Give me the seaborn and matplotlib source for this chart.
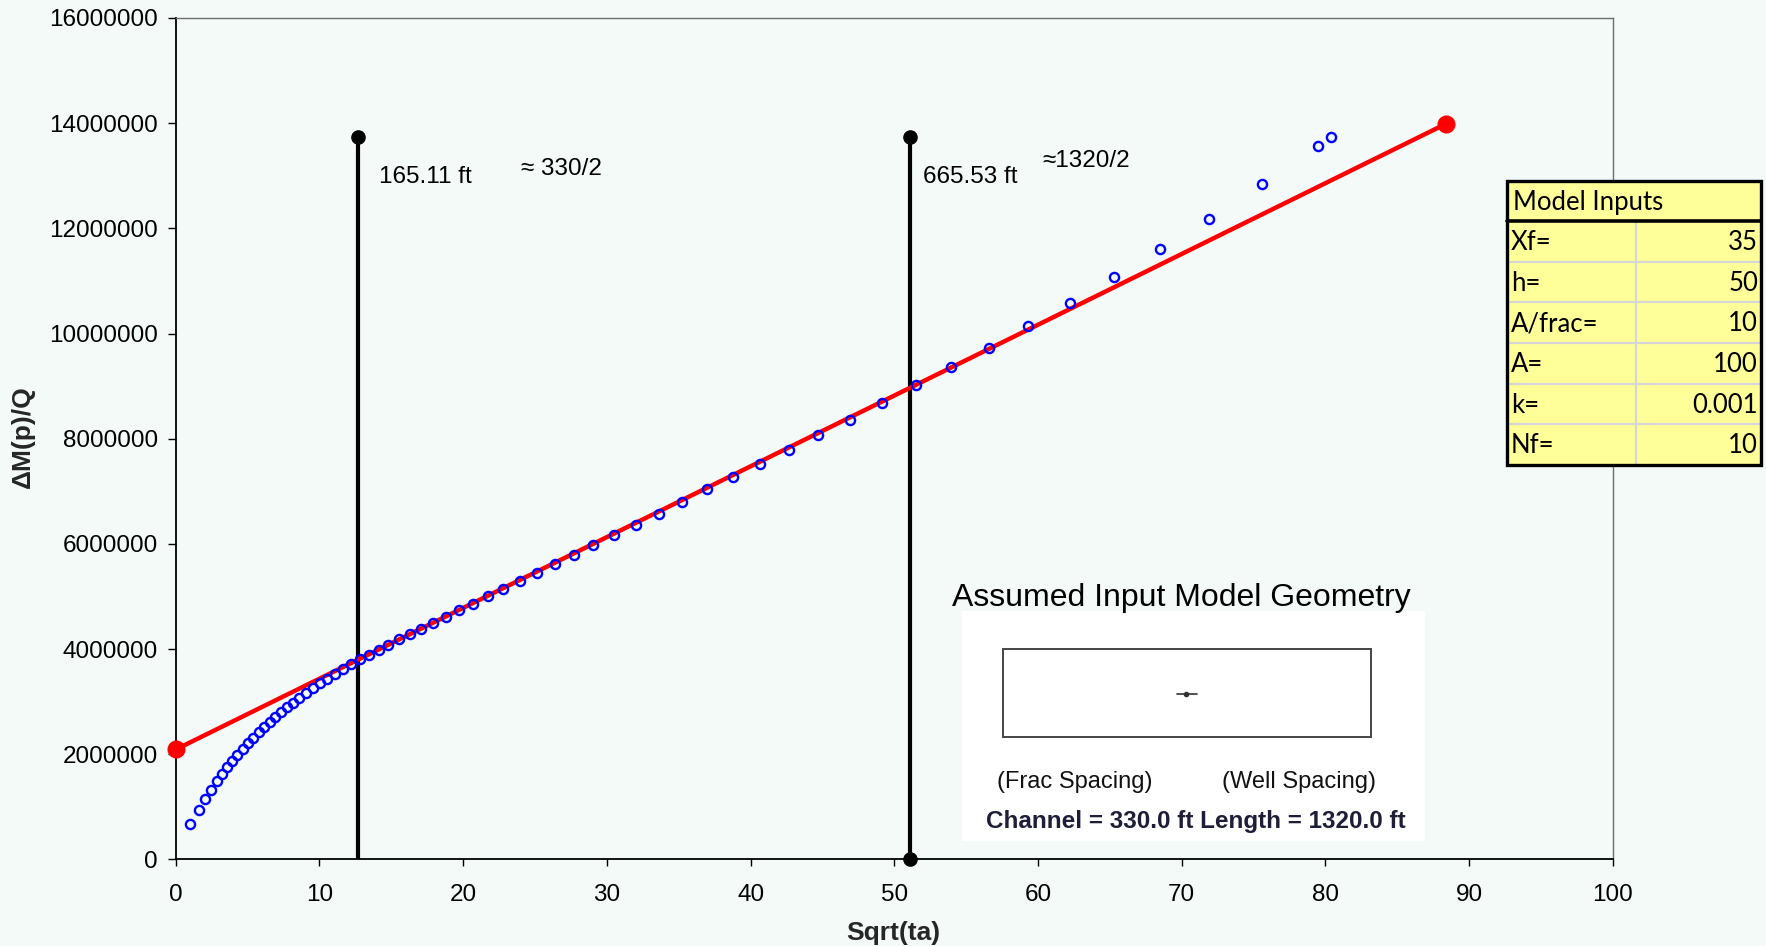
import matplotlib
matplotlib.use("Agg")
import matplotlib.pyplot as plt
import matplotlib.patches as mpatches
import seaborn as sns
import pandas as pd
from matplotlib.ticker import FuncFormatter

# ---- measured material-balance data: sqrt(time) vs normalized pseudo-pressure ----
sqrt_ta = [1.02, 1.60, 2.06, 2.46, 2.85, 3.22, 3.57, 3.92, 4.29, 4.66, 5.03, 5.40,
           5.77, 6.17, 6.54, 6.91, 7.30, 7.72, 8.14, 8.60, 9.04, 9.53, 10.04, 10.53,
           11.08, 11.66, 12.22, 12.82, 13.45, 14.12, 14.80, 15.54, 16.30, 17.10,
           17.92, 18.80, 19.74, 20.72, 21.75, 22.79, 23.96, 25.16, 26.41, 27.73,
           29.05, 30.47, 32.00, 33.60, 35.25, 36.97, 38.77, 40.67, 42.65, 44.71,
           46.89, 49.14, 51.51, 53.94, 56.56, 59.32, 62.20, 65.26, 68.48, 71.91,
           75.58, 79.50, 80.38]
dmp_q = [0.673, 0.946, 1.149, 1.320, 1.491, 1.625, 1.752, 1.872, 1.992, 2.106, 2.209,
         2.315, 2.418, 2.519, 2.614, 2.703, 2.798, 2.894, 2.981, 3.076, 3.171, 3.261,
         3.350, 3.438, 3.533, 3.625, 3.714, 3.807, 3.895, 3.984, 4.082, 4.184, 4.283,
         4.386, 4.500, 4.615, 4.742, 4.862, 5.006, 5.144, 5.297, 5.449, 5.614, 5.791,
         5.978, 6.172, 6.368, 6.577, 6.794, 7.034, 7.269, 7.523, 7.789, 8.074, 8.365,
         8.677, 9.012, 9.362, 9.729, 10.142, 10.585, 11.067, 11.600, 12.184, 12.836,
         13.567, 13.744]
dmp_q = [v * 1e6 for v in dmp_q]

# straight-line fit through the linear flow period
fit_x = [0.0, 88.4]
fit_y = [2.09e6, 13.99e6]

# boundary-time markers (vertical lines)
marker_x = [12.71, 51.1]
marker_top = 13.74e6
marker_labels = ["165.11 ft", "665.53 ft"]
marker_notes = ["\u2248 330/2", "\u22481320/2"]

# model inputs table
param_names = ["Xf=", "h=", "A/frac=", "A=", "k=", "Nf="]
param_values = ["35", "50", "10", "100", "0.001", "10"]

x_ticks = list(range(0, 101, 10))
y_ticks = list(range(0, 16000001, 2000000))

# ---- styling ----
sns.set_theme(style="ticks")
BG = "#F3FAF7"
plt.rcParams["font.family"] = ["Liberation Sans", "DejaVu Sans"]
plt.rcParams["axes.facecolor"] = BG
plt.rcParams["figure.facecolor"] = BG

W, H = 1766, 946
fig = plt.figure(figsize=(W / 100, H / 100), dpi=100)
ax = fig.add_axes([175.7 / W, 86.6 / H, 1437.2 / W, 841.4 / H])
ax.set_facecolor(BG)

df = pd.DataFrame({"x": sqrt_ta, "y": dmp_q})
fit_df = pd.DataFrame({"x": fit_x, "y": fit_y})

# vertical marker lines
for mx in marker_x:
    ax.plot([mx, mx], [0, marker_top], color="black", lw=3.0, zorder=2,
            solid_capstyle="butt")
    ax.plot([mx], [marker_top], "o", color="black", ms=9.5, zorder=3)
ax.plot([marker_x[1]], [0], "o", color="black", ms=9.5, zorder=3, clip_on=False)

# fitted straight line with endpoints
sns.lineplot(data=fit_df, x="x", y="y", ax=ax, color="#FF0000", lw=3.2,
             marker="o", markersize=13, markeredgewidth=0, zorder=4)
ax.lines[-1].set_clip_on(False)

# measured points as open circles
ax.plot(df["x"], df["y"], linestyle="none", marker="o", ms=6.6, mew=1.7,
        mfc="none", mec="#0000FF", zorder=5)

ax.set_xlim(0, 100)
ax.set_ylim(0, 16000000)
ax.set_xticks(x_ticks)
ax.set_yticks(y_ticks)
ax.yaxis.set_major_formatter(FuncFormatter(lambda v, p: f"{int(v)}"))
ax.tick_params(axis="y", direction="out", length=6, width=1, color="black",
               labelsize=17.5, pad=7, labelcolor="black")
ax.tick_params(axis="x", direction="out", length=5, width=1, color="black",
               labelsize=17.5, pad=13, labelcolor="black")

for side in ["left", "bottom"]:
    ax.spines[side].set_color("black")
    ax.spines[side].set_linewidth(1.3)
for side in ["top", "right"]:
    ax.spines[side].set_visible(True)
    ax.spines[side].set_color("#6E6E6E")
    ax.spines[side].set_linewidth(1.0)

label_font = ["Liberation Sans Narrow", "Liberation Sans", "DejaVu Sans"]
ax.set_xlabel("Sqrt(ta)", fontsize=19, fontweight="bold", family=label_font)
ax.set_ylabel("\u0394M(p)/Q", fontsize=19, fontweight="bold", family=label_font)
ax.xaxis.set_label_coords(0.4996, -0.0875)
ax.xaxis.label.set_va("center")
ax.yaxis.set_label_coords(-0.1066, 0.502)
ax.yaxis.label.set_va("center")

# line annotations
for mx, lab, off in zip(marker_x, marker_labels, [1.46, 0.91]):
    ax.text(mx + off, 12.86e6, lab, fontsize=17.5, va="baseline", ha="left",
            color="black")
for nx, note, ny in zip([24.0, 60.32], marker_notes, [13.02e6, 13.17e6]):
    ax.text(nx, ny, note, fontsize=17.5, va="baseline", ha="left", color="black")

# ---- overlay in pixel coordinates: inputs table and geometry sketch ----
ov = fig.add_axes([0, 0, 1, 1], zorder=10)
ov.set_xlim(0, W)
ov.set_ylim(H, 0)
ov.axis("off")
ov.patch.set_alpha(0)

# table
tx0, tx1, ty0, ty1 = 1507, 1761, 181, 465
head_bot = 221
col_split = 1635.7
row_h = (ty1 - head_bot) / len(param_names)
ov.add_patch(mpatches.Rectangle((tx0, ty0), tx1 - tx0, ty1 - ty0, facecolor="#FFFF99",
                                edgecolor="none", zorder=1))
for i in range(1, len(param_names)):
    yy = head_bot + i * row_h
    ov.plot([tx0, tx1], [yy, yy], color="#D6D6D6", lw=1.6, zorder=2)
ov.plot([col_split, col_split], [head_bot, ty1], color="#D6D6D6", lw=1.6, zorder=2)
ov.plot([tx0, tx1], [head_bot, head_bot], color="black", lw=2.6, zorder=3)
ov.add_patch(mpatches.Rectangle((tx0, ty0), tx1 - tx0, ty1 - ty0, facecolor="none",
                                edgecolor="black", lw=2.4, zorder=4))
table_font = ["Lato", "DejaVu Sans"]
ov.text(1513, (ty0 + head_bot) / 2 + 1, "Model Inputs", fontsize=18.5, family=table_font,
        va="center", ha="left", color="black", zorder=5)
for i, (nm, val) in enumerate(zip(param_names, param_values)):
    cy = head_bot + (i + 0.5) * row_h + 1
    ov.text(1511, cy, nm, fontsize=18.5, family=table_font, va="center", ha="left",
            color="black", zorder=5)
    ov.text(1758, cy, val, fontsize=18.5, family=table_font, va="center", ha="right",
            color="black", zorder=5)

# geometry sketch
ov.text(1181, 606, "Assumed Input Model Geometry", fontsize=23, ha="center",
        va="baseline", color="black")
ov.add_patch(mpatches.Rectangle((962, 611), 463, 229.7, facecolor="white",
                                edgecolor="none", zorder=1))
ov.add_patch(mpatches.Rectangle((1002.7, 649.3), 368, 87.4, facecolor="none",
                                edgecolor="#444444", lw=1.4, zorder=2))
ov.plot([1176.7, 1196.7], [694, 694], color="#333333", lw=1.2, zorder=3)
ov.plot([1186], [694], "o", color="#333333", ms=3, zorder=3)
ov.text(997.3, 788, "(Frac Spacing)", fontsize=17, ha="left", va="baseline",
        color="#111111", zorder=3)
ov.text(1376, 788, "(Well Spacing)", fontsize=17, ha="right", va="baseline",
        color="#111111", zorder=3)
ov.text(1195.5, 828.3, "Channel = 330.0 ft Length = 1320.0 ft", fontsize=17.5,
        fontweight="bold", ha="center", va="baseline", color="#1E1E38", zorder=3)

fig.savefig("out.png", dpi=100, facecolor=BG)
